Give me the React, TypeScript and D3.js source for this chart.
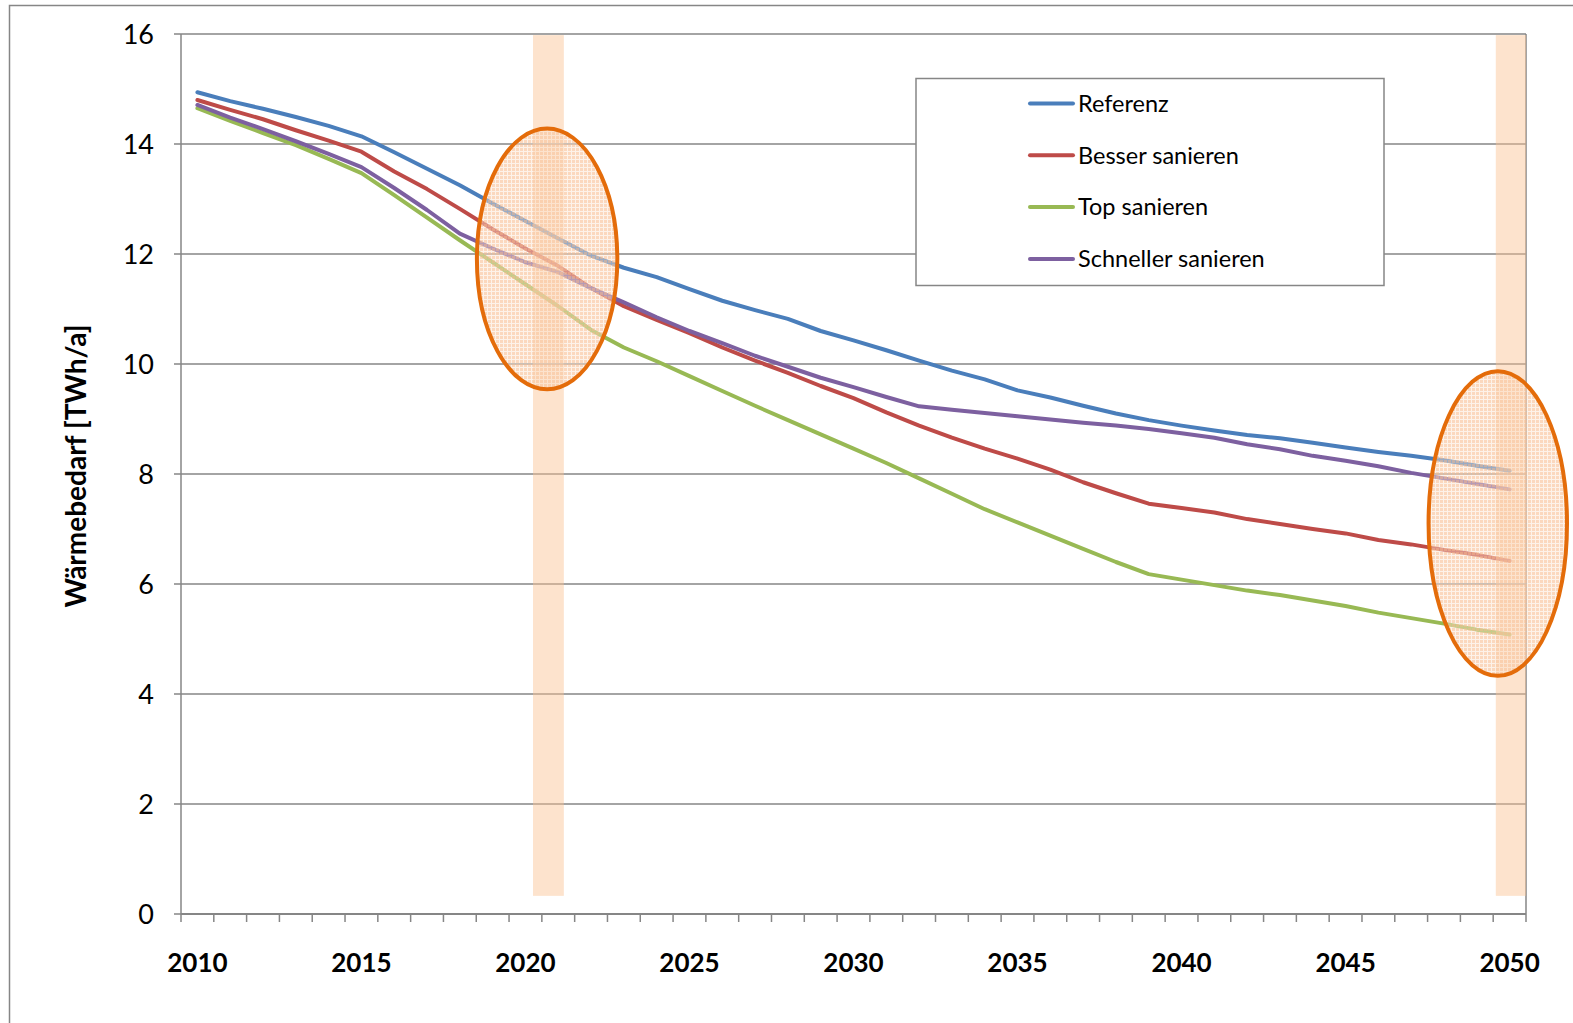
import React, { useEffect, useRef } from 'react';
import * as d3 from 'd3';

const years = d3.range(2010, 2051);
const yearLabels = [2010, 2015, 2020, 2025, 2030, 2035, 2040, 2045, 2050];
const yTicks = [0, 2, 4, 6, 8, 10, 12, 14, 16];

const referenz = [
  14.94, 14.78, 14.64, 14.49, 14.33, 14.14, 13.85, 13.55, 13.25, 12.92,
  12.6, 12.28, 11.97, 11.75, 11.58, 11.36, 11.15, 10.98, 10.82, 10.6,
  10.43, 10.25, 10.06, 9.88, 9.72, 9.52, 9.39, 9.24, 9.1, 8.98,
  8.88, 8.79, 8.71, 8.65, 8.57, 8.48, 8.4, 8.33, 8.25, 8.15, 8.06
];
const besser = [
  14.8, 14.62, 14.45, 14.25, 14.06, 13.86, 13.5, 13.18, 12.82, 12.45,
  12.1, 11.78, 11.38, 11.05, 10.8, 10.56, 10.3, 10.06, 9.84, 9.6,
  9.38, 9.12, 8.88, 8.66, 8.46, 8.28, 8.08, 7.85, 7.65, 7.46,
  7.38, 7.3, 7.18, 7.09, 7.0, 6.92, 6.8, 6.72, 6.62, 6.53, 6.42
];
const top = [
  14.65, 14.42, 14.2, 13.98, 13.73, 13.47, 13.07, 12.66, 12.25, 11.85,
  11.45, 11.05, 10.62, 10.3, 10.05, 9.78, 9.51, 9.24, 8.98, 8.72,
  8.46, 8.2, 7.92, 7.64, 7.36, 7.12, 6.88, 6.64, 6.4, 6.18,
  6.08, 5.98, 5.88, 5.8, 5.7, 5.6, 5.48, 5.38, 5.28, 5.17, 5.08
];
const schneller = [
  14.71, 14.48, 14.27, 14.05, 13.82, 13.58, 13.2, 12.8, 12.37, 12.1,
  11.85, 11.67, 11.38, 11.12, 10.85, 10.6, 10.38, 10.15, 9.95, 9.75,
  9.58, 9.4, 9.23, 9.17, 9.11, 9.05, 8.99, 8.93, 8.88, 8.82,
  8.74, 8.66, 8.54, 8.45, 8.33, 8.24, 8.14, 8.02, 7.92, 7.82, 7.72
];

const seriesNames = ['Referenz', 'Besser sanieren', 'Top sanieren', 'Schneller sanieren'];
const seriesValues = [referenz, besser, top, schneller];
const seriesColors = ['#4A7EBB', '#BE4B48', '#98B954', '#7D60A0'];

// highlighted periods (in years / TWh)
const bandYears = [[2020.23, 2021.17], [2049.58, 2050.5]];
const bandRange = [0.33, 15.98];
const ellipses = [
  { year: 2020.66, value: 11.91, rYears: 2.14, rValue: 2.37 },
  { year: 2049.64, value: 7.1, rYears: 2.11, rValue: 2.77 }
];

const W = 1573;
const H = 1023;
const margin = { left: 181, right: 47, top: 34, bottom: 109 };
const FONT = 'Lato, "Open Sans", sans-serif';

export default function App() {
  const svgRef = useRef<SVGSVGElement>(null);

  useEffect(() => {
    if (!svgRef.current) return;
    const svg = d3.select(svgRef.current);
    svg.selectAll('*').remove();

    const x = d3.scaleBand<number>()
      .domain(years)
      .range([margin.left, W - margin.right])
      .paddingInner(0)
      .paddingOuter(0);
    const bw = x.bandwidth();
    const xc = (yr: number) => (x(yr) as number) + bw / 2;
    const xYear = (yr: number) => (x(2010) as number) + (yr - 2010 + 0.5) * bw;

    const y = d3.scaleLinear().domain([0, 16]).range([H - margin.bottom, margin.top]);

    const defs = svg.append('defs');
    const pat = defs.append('pattern')
      .attr('id', 'dots')
      .attr('width', 4)
      .attr('height', 4)
      .attr('patternUnits', 'userSpaceOnUse');
    pat.append('rect').attr('width', 4).attr('height', 4).attr('fill', '#FCE3CF').attr('opacity', 0.45);
    pat.append('rect').attr('width', 3).attr('height', 3).attr('fill', '#F9B98A').attr('opacity', 0.45);

    // outer frame
    svg.append('rect')
      .attr('x', 9.5).attr('y', 5.5)
      .attr('width', W + 20).attr('height', H + 20)
      .attr('fill', 'white')
      .attr('stroke', '#868686')
      .attr('stroke-width', 1.5);

    const x0 = margin.left;
    const x1 = W - margin.right;

    // gridlines
    svg.append('g')
      .selectAll('line')
      .data(yTicks.filter(t => t > 0))
      .enter()
      .append('line')
      .attr('x1', x0).attr('x2', x1)
      .attr('y1', d => y(d)).attr('y2', d => y(d))
      .attr('stroke', '#868686')
      .attr('stroke-width', 1.5);

    // plot border right
    svg.append('line')
      .attr('x1', x1).attr('x2', x1)
      .attr('y1', y(16)).attr('y2', y(0))
      .attr('stroke', '#868686').attr('stroke-width', 1.5);

    // y axis
    svg.append('line')
      .attr('x1', x0).attr('x2', x0)
      .attr('y1', y(16)).attr('y2', y(0))
      .attr('stroke', '#868686').attr('stroke-width', 1.5);
    const yt = svg.append('g');
    yt.selectAll('line')
      .data(yTicks)
      .enter()
      .append('line')
      .attr('x1', x0 - 7).attr('x2', x0)
      .attr('y1', d => y(d)).attr('y2', d => y(d))
      .attr('stroke', '#868686').attr('stroke-width', 1.5);
    yt.selectAll('text')
      .data(yTicks)
      .enter()
      .append('text')
      .attr('x', x0 - 27)
      .attr('y', d => y(d))
      .attr('dy', '0.36em')
      .attr('text-anchor', 'end')
      .attr('font-family', FONT)
      .attr('font-size', 27)
      .attr('fill', '#000')
      .text(d => String(d));

    // x axis
    svg.append('line')
      .attr('x1', x0).attr('x2', x1)
      .attr('y1', y(0)).attr('y2', y(0))
      .attr('stroke', '#868686').attr('stroke-width', 2);
    const xt = svg.append('g');
    xt.selectAll('line')
      .data(d3.range(years.length + 1))
      .enter()
      .append('line')
      .attr('x1', i => x0 + i * bw).attr('x2', i => x0 + i * bw)
      .attr('y1', y(0)).attr('y2', y(0) + 8)
      .attr('stroke', '#868686').attr('stroke-width', 1.5);
    xt.selectAll('text')
      .data(yearLabels)
      .enter()
      .append('text')
      .attr('x', d => xc(d))
      .attr('y', y(0) + 58)
      .attr('text-anchor', 'middle')
      .attr('font-family', FONT)
      .attr('font-weight', 'bold')
      .attr('font-size', 26)
      .attr('fill', '#000')
      .text(d => String(d));

    // y axis title
    svg.append('text')
      .attr('transform', `translate(86,${(y(16) + y(0)) / 2 - 8}) rotate(-90)`)
      .attr('text-anchor', 'middle')
      .attr('font-family', FONT)
      .attr('font-weight', 'bold')
      .attr('font-size', 28)
      .attr('fill', '#000')
      .text('Wärmebedarf [TWh/a]');

    // series lines
    const line = d3.line<number>()
      .x((_, i) => xc(years[i]))
      .y(d => y(d));
    svg.append('g')
      .selectAll('path')
      .data(seriesValues)
      .enter()
      .append('path')
      .attr('d', d => line(d))
      .attr('fill', 'none')
      .attr('stroke', (_, i) => seriesColors[i])
      .attr('stroke-width', 4)
      .attr('stroke-linejoin', 'round')
      .attr('stroke-linecap', 'round');

    // highlight bands
    svg.append('g')
      .selectAll('rect')
      .data(bandYears)
      .enter()
      .append('rect')
      .attr('x', d => xYear(d[0]))
      .attr('width', d => xYear(d[1]) - xYear(d[0]))
      .attr('y', y(bandRange[1]))
      .attr('height', y(bandRange[0]) - y(bandRange[1]))
      .attr('fill', '#FAC090')
      .attr('opacity', 0.45);

    // ellipses
    svg.append('g')
      .selectAll('ellipse')
      .data(ellipses)
      .enter()
      .append('ellipse')
      .attr('cx', d => xYear(d.year))
      .attr('cy', d => y(d.value))
      .attr('rx', d => d.rYears * bw)
      .attr('ry', d => y(0) - y(d.rValue))
      .attr('fill', 'url(#dots)')
      .attr('stroke', '#E46C0A')
      .attr('stroke-width', 4);

    // legend
    const lg = svg.append('g');
    lg.append('rect')
      .attr('x', 916).attr('y', 78.5)
      .attr('width', 468).attr('height', 207)
      .attr('fill', 'white')
      .attr('stroke', '#868686')
      .attr('stroke-width', 1.5);
    const items = lg.selectAll('g.item')
      .data(seriesNames)
      .enter()
      .append('g')
      .attr('class', 'item')
      .attr('transform', (_, i) => `translate(1030,${103.5 + i * 51.8})`);
    items.append('line')
      .attr('x1', 0).attr('x2', 43)
      .attr('stroke', (_, i) => seriesColors[i])
      .attr('stroke-width', 4)
      .attr('stroke-linecap', 'round');
    items.append('text')
      .attr('x', 48)
      .attr('dy', '0.35em')
      .attr('font-family', FONT)
      .attr('font-size', 23.5)
      .attr('fill', '#000')
      .text(d => d);
  }, []);

  return (
    <svg
      ref={svgRef}
      width={W}
      height={H}
      style={{ position: 'absolute', left: 0, top: 0, display: 'block' }}
    />
  );
}
